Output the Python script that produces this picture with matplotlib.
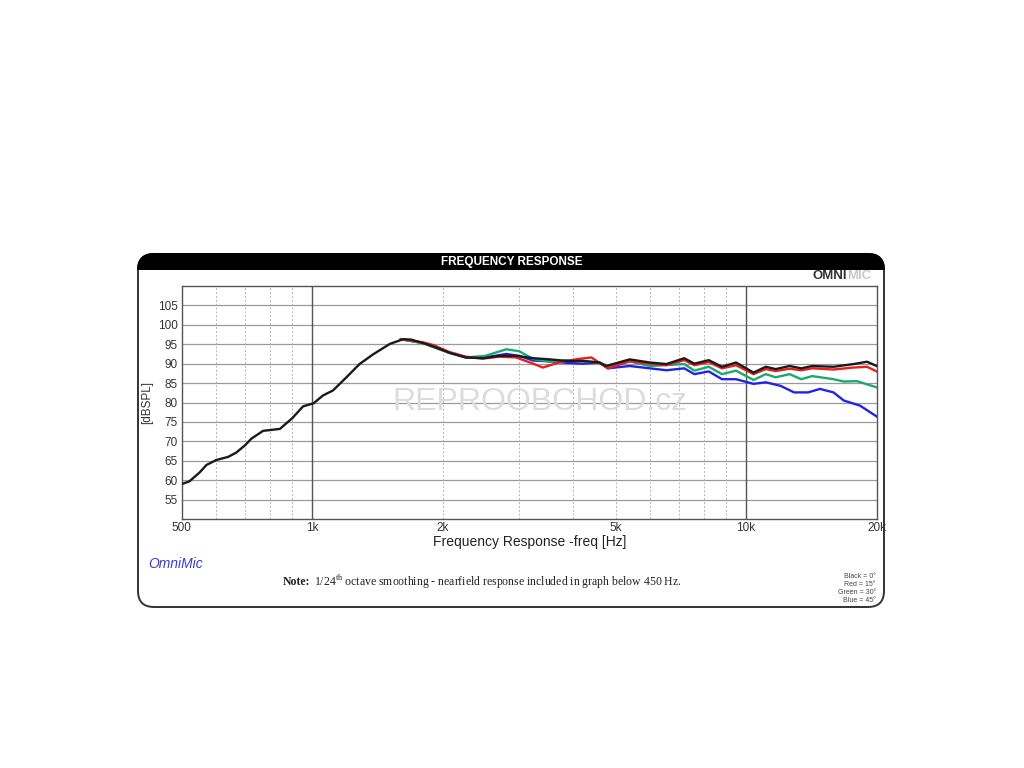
import matplotlib
matplotlib.use("Agg")
import matplotlib.pyplot as plt
from matplotlib.patches import FancyBboxPatch, Rectangle

plt.rcParams['font.family'] = ['Liberation Sans', 'DejaVu Sans']
plt.rcParams['mathtext.fontset'] = 'custom'
plt.rcParams['mathtext.rm'] = 'Liberation Serif'
plt.rcParams['mathtext.bf'] = 'Liberation Serif:bold'

# measured responses (Hz, dB SPL)
freq_0 = [500, 521, 550, 570, 601, 640, 668, 700, 724, 770, 842, 900, 952, 1007,
          1058, 1116, 1199, 1285, 1381, 1510, 1620, 1690, 1800, 1895, 2073, 2260,
          2474, 2704, 2956, 3232, 3532, 3856, 4213, 4590, 4758, 5390, 6000, 6550,
          7200, 7600, 8200, 8800, 9480, 10400, 11100, 11700, 12600, 13400, 14200,
          15900, 17700, 19000, 20000]
spl_0 = [59.0, 59.7, 62.0, 63.9, 65.2, 66.0, 67.1, 69.0, 70.7, 72.7, 73.2, 76.0,
         79.0, 79.8, 81.8, 83.1, 86.5, 89.9, 92.4, 95.1, 96.3, 96.2, 95.3, 94.5,
         92.8, 91.6, 91.4, 92.0, 92.0, 91.4, 91.1, 90.7, 90.7, 90.3, 89.4, 91.1,
         90.3, 89.9, 91.4, 90.0, 90.9, 89.2, 90.3, 87.7, 89.2, 88.6, 89.4, 88.8,
         89.4, 89.2, 89.9, 90.5, 89.4]

freq_15 = [1600, 1800, 1900, 2070, 2260, 2470, 2700, 2950, 3230, 3400, 3700, 4100,
           4400, 4800, 5390, 6000, 6550, 7200, 7600, 8200, 8800, 9480, 10400,
           11100, 11700, 12600, 13400, 14200, 15900, 17700, 19000, 20000]
spl_15 = [96.3, 95.5, 94.8, 93.0, 91.8, 91.3, 91.8, 91.6, 90.0, 89.0, 90.3, 91.2,
          91.6, 88.8, 90.6, 90.0, 89.6, 90.9, 89.6, 90.4, 88.8, 89.6, 87.3, 88.6,
          88.1, 88.7, 88.3, 88.8, 88.5, 89.0, 89.2, 88.0]

freq_30 = [1600, 1800, 2070, 2260, 2500, 2800, 3000, 3230, 3530, 3860, 4200, 4590,
           4800, 5390, 6000, 7200, 7600, 8200, 8800, 9480, 10400, 11100, 11700,
           12600, 13400, 14200, 15900, 16800, 18000, 20000]
spl_30 = [96.3, 95.3, 92.8, 91.6, 92.0, 93.7, 93.2, 91.2, 90.5, 90.9, 90.6, 90.3,
          89.4, 90.6, 89.4, 89.9, 88.2, 89.2, 87.3, 88.2, 85.8, 87.3, 86.5, 87.3,
          86.0, 86.8, 86.0, 85.4, 85.5, 83.9]

freq_45 = [1600, 1800, 2070, 2260, 2500, 2800, 3000, 3230, 3530, 3860, 4200, 4590,
           4800, 5390, 6000, 6550, 7200, 7600, 8200, 8800, 9480, 10400, 11100,
           12000, 12900, 13900, 14800, 15900, 16800, 18300, 20000]
spl_45 = [96.3, 95.3, 92.8, 91.6, 91.6, 92.5, 92.0, 90.8, 90.6, 90.2, 90.0, 90.3,
          88.8, 89.4, 88.8, 88.3, 88.8, 87.3, 88.0, 86.0, 86.0, 84.8, 85.2, 84.3,
          82.6, 82.6, 83.5, 82.6, 80.5, 79.2, 76.4]

y_ticks = [55, 60, 65, 70, 75, 80, 85, 90, 95, 100, 105]
x_ticks = [500, 1000, 2000, 5000, 10000, 20000]
x_ticklabels = ['500', '1k', '2k', '5k', '10k', '20k']
minor_lines = [600, 700, 800, 900, 2000, 3000, 4000, 5000, 6000, 7000, 8000, 9000]
legend_lines = ['Black = 0°', 'Red = 15°', 'Green = 30°', 'Blue = 45°']

W, H = 1024, 768
fig = plt.figure(figsize=(W / 100, H / 100), dpi=100)
fig.patch.set_facecolor('white')


def inch(x, y):
    # pixel position (top-left origin) -> inches for dpi_scale_trans
    return x / 100, (H - y) / 100


#card frame
cx0, cy0, cx1, cy1 = 138, 254, 884, 607
bx, by = inch(cx0, cy1)
card = FancyBboxPatch((bx, by), (cx1 - cx0) / 100, (cy1 - cy0) / 100,
                      boxstyle="round,pad=0,rounding_size=0.16",
                      transform=fig.dpi_scale_trans, facecolor='white',
                      edgecolor='#333333', linewidth=1.4, zorder=-3)
fig.patches.append(card)
bar = FancyBboxPatch((bx, by), (cx1 - cx0) / 100, (cy1 - cy0) / 100,
                     boxstyle="round,pad=0,rounding_size=0.16",
                     transform=fig.dpi_scale_trans, facecolor='black',
                     edgecolor='black', linewidth=1.4, zorder=-2)
clip = Rectangle(inch(cx0 - 5, 270), (cx1 - cx0 + 10) / 100, 0.3,
                 transform=fig.dpi_scale_trans)
bar.set_clip_path(clip)
fig.patches.append(bar)

fig.text(512 / W, 1 - 262 / H, 'FREQUENCY RESPONSE', color='white',
         fontsize=8.5, fontweight='bold', ha='center', va='center')
fig.text(847 / W, 1 - 276 / H, 'OMNI', color='#333333', fontsize=9.5,
         fontweight='bold', ha='right', va='center')
fig.text(847 / W, 1 - 276 / H, 'MIC', color='#c8c8c8', fontsize=9.5,
         fontweight='bold', ha='left', va='center')

#plot area
ax = fig.add_axes([181.7 / W, 1 - 519 / H, (876.7 - 181.7) / W, (519 - 286) / H])
ax.set_facecolor('white')
ax.set_xscale('log')
ax.set_xlim(500, 20000)
ax.set_ylim(50, 110)

for yv in y_ticks:
    ax.axhline(yv, color='#9a9a9a', lw=0.9, zorder=1)
for xv in minor_lines:
    ax.axvline(xv, color='#b5b5b5', lw=0.7, ls=(0, (2, 2)), zorder=1)
for xv in [1000, 10000]:
    ax.axvline(xv, color='#555555', lw=1.0, zorder=1)

ax.text(0.515, 0.5, 'REPROOBCHOD.cz', transform=ax.transAxes, fontsize=23,
        color='#dcdcdc', ha='center', va='center', zorder=1.5)

ax.plot(freq_45, spl_45, color='#2323e6', lw=1.7, zorder=3)
ax.plot(freq_30, spl_30, color='#1aaa70', lw=1.7, zorder=4)
ax.plot(freq_15, spl_15, color='#e8201c', lw=1.7, zorder=5)
ax.plot(freq_0, spl_0, color='#1a1a1a', lw=1.7, zorder=6)

ax.set_xticks(x_ticks)
ax.set_xticklabels(x_ticklabels)
ax.minorticks_off()
ax.set_yticks(y_ticks)
ax.tick_params(axis='x', length=0, pad=2, labelsize=8.5, labelcolor='#333333')
ax.tick_params(axis='y', length=0, pad=3, labelsize=8.5, labelcolor='#333333')
for sp in ax.spines.values():
    sp.set_color('#555555')
    sp.set_linewidth(1.0)

ax.set_xlabel('Frequency Response -freq [Hz]', fontsize=10, color='#222222',
              labelpad=1)
fig.text(147 / W, 1 - 402 / H, '[dBSPL]', fontsize=8.5, color='#333333',
         rotation=90, ha='center', va='center')

#footer texts
fig.text(148 / W, 1 - 564 / H, 'OmniMic', color='#3a3ad6', fontsize=10,
         style='italic', ha='left', va='center')
fig.text(283 / W, 1 - 582 / H, 'Note:', fontsize=8.5, family='Liberation Serif',
         fontweight='bold', color='#222222', ha='left', va='center')
fig.text(314 / W, 1 - 582 / H,
         r'1/24$^{\mathrm{th}}$ octave smoothing - nearfield response included in graph below 450 Hz.',
         fontsize=8.5, family='Liberation Serif', color='#222222',
         ha='left', va='center')
for i, s in enumerate(legend_lines):
    fig.text(876 / W, 1 - (577 + i * 8) / H, s, fontsize=5, color='#444444',
             ha='right', va='center')

fig.savefig('out.png', dpi=100, facecolor='white')
